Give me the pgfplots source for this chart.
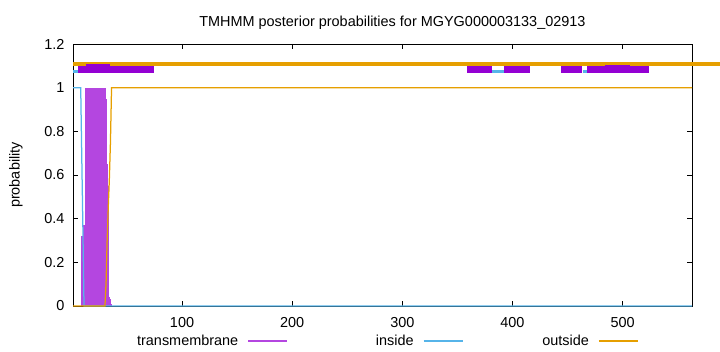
\documentclass[border=0pt]{standalone}
\usepackage{fontspec}
\setmainfont{Liberation Sans}
\usepackage{pgfplots}
\pgfplotsset{compat=1.18}
\definecolor{tmbar}{HTML}{9400D3}
\definecolor{tmimp}{RGB}{180,70,224}
\definecolor{incol}{HTML}{56B4E9}
\definecolor{outcol}{HTML}{E69F00}
\begin{document}
\begin{tikzpicture}
\useasboundingbox (0,0) rectangle (720bp,352bp);
\begin{axis}[
  at={(73bp,46bp)}, anchor=south west,
  scale only axis, width=619bp, height=262bp,
  xmin=1, xmax=563, ymin=0, ymax=1.2,
  xtick={100,200,300,400,500},
  ytick={0,0.2,0.4,0.6,0.8,1,1.2},
  yticklabels={0,0.2,0.4,0.6,0.8,1,1.2},
  tick align=inside, major tick length=5bp,
  tick style={black, line width=0.7bp},
  axis line style={black, line width=0.8bp},
  xticklabel style={yshift=-8bp},
  yticklabel style={xshift=-5bp},
  clip=false,
  font=\fontsize{14.5}{17}\selectfont,
  /pgf/number format/assume math mode=true,
  title={TMHMM posterior probabilities for MGYG000003133\_02913},
  ylabel={probability},
  every axis title/.style={at={(axis description cs:0.516,1)},anchor=center,yshift=21bp},
  every axis y label/.style={at={(axis description cs:-0.0921,0.5)},rotate=90,anchor=center},
  legend columns=3, legend plot pos=right,
  legend style={draw=none, fill=none, at={(0.0974,-0.1336)}, anchor=west, inner sep=0pt, outer sep=0pt, nodes={inner sep=0pt}},
]
% legend images
\addlegendimage{legend image code/.code={\path[draw=none,fill=none] (0bp,0bp) -- (70.3bp,0bp); \path[draw=tmimp, line width=1.3bp] (10bp,0bp) -- (49bp,0bp);}}
\addlegendentry{\makebox[105bp][r]{transmembrane}}
\addlegendimage{legend image code/.code={\path[draw=none,fill=none] (0bp,0bp) -- (70.3bp,0bp); \path[draw=incol, line width=1.3bp] (10bp,0bp) -- (49bp,0bp);}}
\addlegendentry{\makebox[105bp][r]{inside}}
\addlegendimage{legend image code/.code={\path[draw=none,fill=none] (0bp,0bp) -- (70.3bp,0bp); \path[draw=outcol, line width=1.3bp] (10bp,0bp) -- (49bp,0bp);}}
\addlegendentry{\makebox[105bp][r]{outside}}

% transmembrane posterior (impulses)
\addplot[forget plot, ycomb, color=tmimp, line width=1.2bp] coordinates {
 (9,0.32) (10,0.32) (11,0.37) (12,1.0) (13,1.0) (14,1.0) (15,1.0) (16,1.0)
 (17,1.0) (18,1.0) (19,1.0) (20,1.0) (21,1.0) (22,1.0) (23,1.0) (24,1.0)
 (25,1.0) (26,1.0) (27,1.0) (28,1.0) (29,1.0) (30,1.0) (31,0.95) (32,0.65)
 (33,0.55) (34,0.04) (35,0.03) (36,0.01)
};
% inside posterior
\addplot[forget plot, color=incol, line width=1.25bp] coordinates {
 (1,1) (8,1) (9,0.67) (10,0.35) (11,0) (563,0)
};
% outside posterior
\addplot[forget plot, color=outcol, line width=1.25bp] coordinates {
 (1,0) (30,0) (31,0.1) (32,0.3) (33,0.45) (34,0.58) (35,0.75) (36,1) (563,1)
};
% predicted topology: outside
\addplot[forget plot, color=outcol, line width=4bp] coordinates {(1,1.11) (588.5,1.11)};
% predicted topology: inside
\addplot[forget plot, color=incol, line width=3bp] coordinates {(1,1.072) (5.3,1.072)};
\addplot[forget plot, color=incol, line width=3bp] coordinates {(34.6,1.072) (39.1,1.072)};
\addplot[forget plot, color=incol, line width=3bp] coordinates {(381.4,1.072) (392.3,1.072)};
\addplot[forget plot, color=incol, line width=3bp] coordinates {(464,1.072) (484,1.072)};
% predicted topology: transmembrane
\addplot[forget plot, color=tmbar, line width=7.3bp] coordinates {(5.5,1.082) (74.5,1.082)};
\addplot[forget plot, color=tmbar, line width=9.5bp] coordinates {(12.8,1.088) (34.6,1.088)};
\addplot[forget plot, color=tmbar, line width=7.3bp] coordinates {(358.7,1.082) (381.4,1.082)};
\addplot[forget plot, color=tmbar, line width=7.3bp] coordinates {(392.3,1.082) (415.9,1.082)};
\addplot[forget plot, color=tmbar, line width=7.3bp] coordinates {(444,1.082) (463.1,1.082)};
\addplot[forget plot, color=tmbar, line width=7.3bp] coordinates {(467.7,1.082) (523.7,1.082)};
\addplot[forget plot, color=tmbar, line width=8.5bp] coordinates {(484,1.086) (506.7,1.086)};
\end{axis}
\end{tikzpicture}
\end{document}
